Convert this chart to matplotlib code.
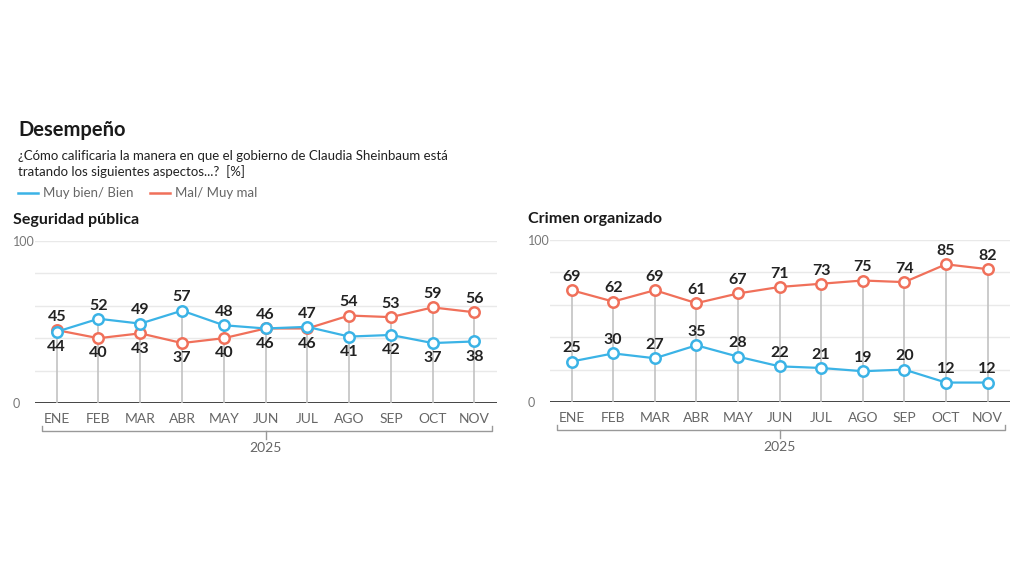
import matplotlib.pyplot as plt
import matplotlib.transforms as mtransforms
from matplotlib.lines import Line2D

plt.rcParams["font.family"] = ["Lato", "DejaVu Sans"]

months = ["ENE", "FEB", "MAR", "ABR", "MAY", "JUN", "JUL", "AGO", "SEP", "OCT", "NOV"]
year_label = "2025"

seg_bien = [44, 52, 49, 57, 48, 46, 47, 41, 42, 37, 38]
seg_mal = [45, 40, 43, 37, 40, 46, 46, 54, 53, 59, 56]
crim_bien = [25, 30, 27, 35, 28, 22, 21, 19, 20, 12, 12]
crim_mal = [69, 62, 69, 61, 67, 71, 73, 75, 74, 85, 82]

BLUE = "#3bb3e6"
ORANGE = "#f0705a"
GRAY_TXT = "#666666"


def draw_panel(ax, bien, mal, split_labels, title):
    x = list(range(len(months)))
    ax.set_xlim(-0.52, 10.54)
    ax.set_ylim(0, 100)
    for s in ax.spines.values():
        s.set_visible(False)
    for g in [20, 40, 60, 80, 100]:
        ax.axhline(g, color="#e9e9e9", lw=1, zorder=0)
    ax.axhline(0, color="#333333", lw=2, zorder=1)

    # stems from top marker down to zero
    for i in x:
        ax.plot([i, i], [0, max(bien[i], mal[i])], color="#c2c2c2", lw=1.2, zorder=1)

    for vals, col in [(mal, ORANGE), (bien, BLUE)]:
        ax.plot(x, vals, color=col, lw=1.6, marker="o", markersize=7.5,
                markerfacecolor="white", markeredgecolor=col, markeredgewidth=1.8, zorder=3)

    lab = dict(ha="center", va="center", fontsize=11.5, fontweight="bold", color="#222222",
               textcoords="offset points")
    for i in x:
        if split_labels:
            if bien[i] >= mal[i]:
                hi, lo = bien[i], mal[i]
            else:
                hi, lo = mal[i], bien[i]
            ax.annotate(str(hi), (i, hi), xytext=(0, 9.5), **lab)
            ax.annotate(str(lo), (i, lo), xytext=(0, -11), **lab)
        else:
            for v in (bien[i], mal[i]):
                ax.annotate(str(v), (i, v), xytext=(0, 9.5), **lab)

    ax.set_xticks(x)
    ax.set_xticklabels(months, fontsize=10, color=GRAY_TXT)
    ax.set_yticks([0, 100])
    ax.set_yticklabels(["0", "100"], fontsize=9, color="#777777", ha="left")
    ax.tick_params(axis="x", length=0, pad=7.5)
    ax.tick_params(axis="y", length=0, pad=16)

    # year bracket under the months
    tr = mtransforms.blended_transform_factory(ax.transData, ax.transAxes)
    bx0, bx1 = -0.36, 10.41
    ax.add_line(Line2D([bx0, bx0, bx1, bx1], [-0.145, -0.175, -0.175, -0.145],
                       transform=tr, color="#999999", lw=1, clip_on=False))
    ax.add_line(Line2D([5, 5], [-0.175, -0.22], transform=tr, color="#999999",
                       lw=1, clip_on=False))
    ax.text(5, -0.28, year_label, transform=tr, ha="center", va="center",
            fontsize=10, color=GRAY_TXT)

    ax.text(-0.048, 1.13, title, transform=ax.transAxes, ha="left", va="center",
            fontsize=11.5, fontweight="bold", color="#1a1a1a")


fig = plt.figure(figsize=(10.24, 5.76), dpi=100)

ax1 = fig.add_axes([35 / 1024, 1 - 403 / 576, 462 / 1024, 162 / 576])
ax2 = fig.add_axes([550 / 1024, 1 - 402 / 576, 460 / 1024, 162 / 576])

draw_panel(ax1, seg_bien, seg_mal, True, "Seguridad pública")
draw_panel(ax2, crim_bien, crim_mal, False, "Crimen organizado")

fig.text(18 / 1024, 1 - 130 / 576, "Desempeño", fontsize=14.5, fontweight="bold",
         color="#1a1a1a", va="center")
fig.text(18 / 1024, 1 - 164 / 576,
         "¿Cómo calificaria la manera en que el gobierno de Claudia Sheinbaum está\n"
         "tratando los siguientes aspectos...?  [%]",
         fontsize=9.5, color="#222222", va="center", linespacing=1.35)

# legend
fig.add_artist(Line2D([18 / 1024, 38 / 1024], [1 - 193 / 576] * 2, color=BLUE, lw=1.8))
fig.text(43 / 1024, 1 - 193 / 576, "Muy bien/ Bien", fontsize=9.5, color=GRAY_TXT, va="center")
fig.add_artist(Line2D([150 / 1024, 170 / 1024], [1 - 193 / 576] * 2, color=ORANGE, lw=1.8))
fig.text(175 / 1024, 1 - 193 / 576, "Mal/ Muy mal", fontsize=9.5, color=GRAY_TXT, va="center")

fig.savefig("out.png", dpi=100, facecolor="white")
